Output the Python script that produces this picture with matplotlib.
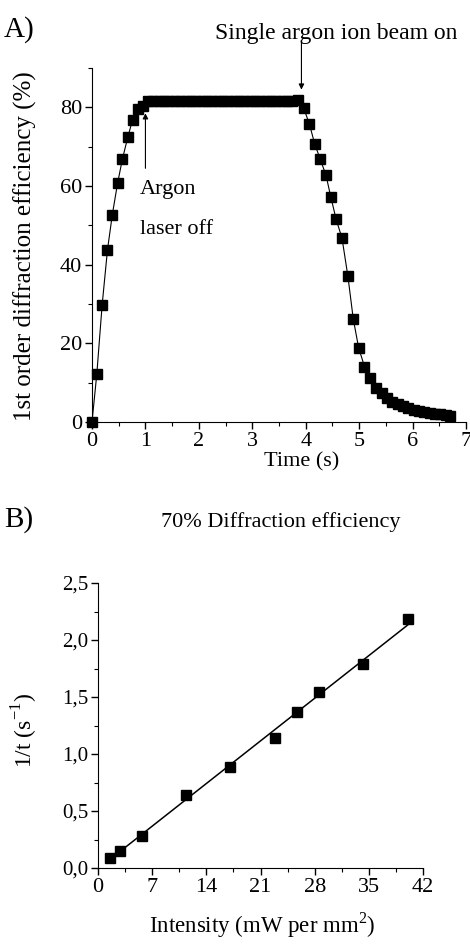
import numpy as np
import matplotlib.pyplot as plt
from matplotlib.ticker import MultipleLocator

plt.rcParams["font.family"] = ["Liberation Serif", "DejaVu Serif"]
plt.rcParams["mathtext.fontset"] = "custom"
plt.rcParams["mathtext.rm"] = "Liberation Serif"

# panel A: grating build-up, plateau and erasure
t_rise = [0.0, 0.09, 0.19, 0.29, 0.38, 0.48, 0.57, 0.67, 0.76, 0.86, 0.95]
eff_rise = [0.0, 12.2, 29.8, 43.8, 52.7, 60.8, 66.9, 72.4, 76.9, 79.7, 80.4]

t_plateau = [1.05, 1.15, 1.25, 1.35, 1.45, 1.55, 1.65, 1.75, 1.85, 1.95,
             2.05, 2.15, 2.25, 2.35, 2.45, 2.55, 2.65, 2.75, 2.85, 2.95,
             3.05, 3.15, 3.25, 3.35, 3.45, 3.55, 3.65, 3.75, 3.85]
eff_plateau = [81.5, 81.7, 81.6, 81.5, 81.6, 81.7, 81.6, 81.5, 81.6, 81.6,
               81.7, 81.5, 81.6, 81.6, 81.5, 81.7, 81.6, 81.6, 81.5, 81.6,
               81.7, 81.6, 81.5, 81.6, 81.7, 81.6, 81.6, 81.7, 81.8]

t_fall = [3.96, 4.07, 4.17, 4.27, 4.38, 4.47, 4.57, 4.68, 4.79, 4.89,
          4.99, 5.10, 5.20, 5.31, 5.42]
eff_fall = [79.9, 75.7, 70.6, 66.9, 62.7, 57.2, 51.5, 46.7, 37.0, 26.2,
            18.9, 14.1, 11.1, 8.6, 7.3]

t_tail = [5.52, 5.62, 5.72, 5.82, 5.92, 6.02, 6.12, 6.22, 6.32, 6.42,
          6.52, 6.62, 6.70]
eff_tail = [6.0, 5.2, 4.5, 4.0, 3.5, 3.1, 2.8, 2.5, 2.3, 2.1, 2.0, 1.9, 1.6]

# panel B: inverse time to reach 70% vs writing intensity
intensity = [1.5, 2.8, 5.7, 11.4, 17.0, 22.9, 25.7, 28.5, 34.3, 40.0]
inv_time = [0.09, 0.15, 0.28, 0.64, 0.89, 1.14, 1.37, 1.54, 1.79, 2.18]

b_yticks = [0.0, 0.5, 1.0, 1.5, 2.0, 2.5]
b_yticklabels = ["0,0", "0,5", "1,0", "1,5", "2,0", "2,5"]
b_xticks = [0, 7, 14, 21, 28, 35, 42]

W, H = 470, 944


def fx(px):
    return px / W


def fy(py):
    return 1 - py / H


def style_axes(ax, labelsize=16):
    for s in ("top", "right"):
        ax.spines[s].set_visible(False)
    ax.tick_params(which="major", direction="out", length=5, width=1, labelsize=labelsize, pad=2)
    ax.tick_params(which="minor", direction="out", length=3, width=0.8)


def plot_panel_a(fig):
    ax = fig.add_axes([fx(92), fy(422), fx(466) - fx(92), fy(68) - fy(422)])
    t = t_rise + t_plateau + t_fall + t_tail
    eff = eff_rise + eff_plateau + eff_fall + eff_tail
    ax.plot(t, eff, color="black", lw=0.8, marker="s", ms=7, mfc="black",
            mec="black", clip_on=False)
    ax.set_xlim(0, 7)
    ax.set_ylim(0, 90)
    ax.set_xticks(range(0, 8))
    ax.set_yticks([0, 20, 40, 60, 80])
    ax.xaxis.set_minor_locator(MultipleLocator(0.5))
    ax.yaxis.set_minor_locator(MultipleLocator(10))
    style_axes(ax)

    fig.text(fx(302), fy(462), "Time (s)", fontsize=16, ha="center", va="center")
    fig.text(fx(25), fy(246), "1st order diffraction efficiency (%)", fontsize=18,
             rotation=90, ha="center", va="center")

    ax.annotate("", xy=(3.92, 84.5), xytext=(3.92, 96.5),
                arrowprops=dict(arrowstyle="-|>", color="black", lw=0.8,
                                mutation_scale=8, shrinkA=0, shrinkB=0),
                annotation_clip=False)
    ax.annotate("", xy=(1.0, 78.5), xytext=(1.0, 64.5),
                arrowprops=dict(arrowstyle="-|>", color="black", lw=0.8,
                                mutation_scale=8, shrinkA=0, shrinkB=0))
    ax.text(0.9, 59, "Argon", fontsize=16, va="center", ha="left")
    ax.text(0.9, 49, "laser off", fontsize=16, va="center", ha="left")
    fig.text(fx(336), fy(33), "Single argon ion beam on", fontsize=17,
             ha="center", va="center")
    fig.text(fx(4), fy(30), "A)", fontsize=21, ha="left", va="center")


def plot_panel_b(fig):
    ax = fig.add_axes([fx(98), fy(868), fx(423) - fx(98), fy(583) - fy(868)])
    ax.plot(intensity, inv_time, "s", color="black", ms=7, clip_on=False)
    slope, intercept = np.polyfit(intensity, inv_time, 1)
    xs = np.array([intensity[0], intensity[-1]])
    ax.plot(xs, slope * xs + intercept, color="black", lw=1.1)
    ax.set_xlim(0, 42)
    ax.set_ylim(0, 2.5)
    ax.set_xticks(b_xticks)
    ax.set_yticks(b_yticks)
    ax.set_yticklabels(b_yticklabels)
    ax.xaxis.set_minor_locator(MultipleLocator(3.5))
    ax.yaxis.set_minor_locator(MultipleLocator(0.25))
    style_axes(ax)
    ax.tick_params(axis="y", labelsize=15)

    fig.text(fx(262), fy(925), r"Intensity (mW per mm$^{\mathregular{2}}$)",
             fontsize=16.5, ha="center", va="center")
    fig.text(fx(25), fy(730), r"1/t (s$^{\mathregular{-1}}$)", fontsize=17,
             rotation=90, ha="center", va="center")
    fig.text(fx(281), fy(522), "70% Diffraction efficiency", fontsize=16,
             ha="center", va="center")
    fig.text(fx(4), fy(520), "B)", fontsize=21, ha="left", va="center")


def main():
    fig = plt.figure(figsize=(W / 100, H / 100), dpi=100)
    plot_panel_a(fig)
    plot_panel_b(fig)
    fig.savefig("out.png", dpi=100)
    plt.close(fig)


if __name__ == "__main__":
    main()
